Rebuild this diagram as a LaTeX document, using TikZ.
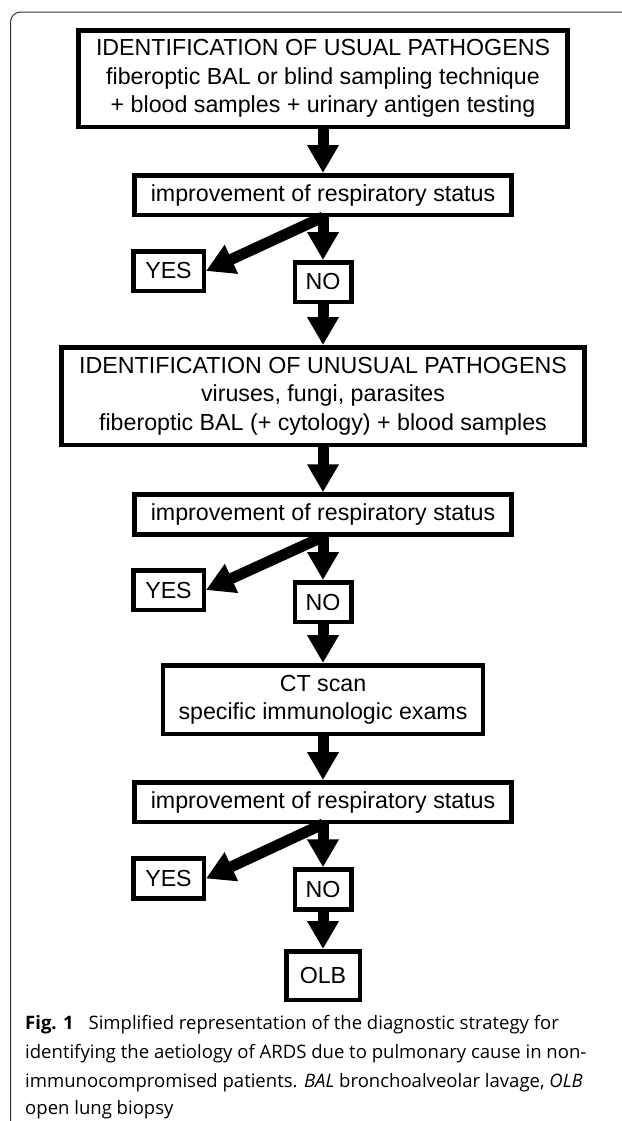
\documentclass[tikz,border=0pt]{standalone}
\usepackage{fontspec}
\setmainfont{Liberation Sans}
\newfontfamily\capfont{Open Sans}
\usetikzlibrary{arrows.meta}
\begin{document}
\begin{tikzpicture}[x=1bp,y=-1bp,
  box/.style={draw, line width=4.5bp, inner sep=0pt, align=center, font=\fontsize{23.3}{28.5}\selectfont},
  bigarrow/.style={line width=11bp, -{Triangle[width=30bp,length=28bp]}},
  captext/.style={anchor=base west, inner sep=0pt, font=\capfont\fontsize{18.6}{29}\selectfont},
  frameline/.style={line width=1bp, draw=black!80, rounded corners=10bp},
]
\useasboundingbox (0,0) rectangle (622,1121);
\coordinate (fa) at (10.5,1125);
\coordinate (fb) at (10.5,12);
\coordinate (fc) at (625,12);
\draw[frameline] (fa) -- (fb) -- (fc);

\node[box, minimum width=488.5bp, minimum height=96.5bp] (b1) at (323,78.5) {IDENTIFICATION OF USUAL PATHOGENS\\fiberoptic BAL or blind sampling technique\\+ blood samples + urinary antigen testing};
\node[box, minimum width=376.5bp, minimum height=39.5bp] (b2) at (323,195) {improvement of respiratory status};
\node[box, minimum width=70.5bp, minimum height=39.5bp] (y1) at (168.5,271) {YES};
\node[box, minimum width=56.5bp, minimum height=39.5bp] (n1) at (323,282) {NO};

\node[box, minimum width=522.8bp, minimum height=97.5bp] (b3) at (323,396) {IDENTIFICATION OF UNUSUAL PATHOGENS\\viruses, fungi, parasites\\fiberoptic BAL (+ cytology) + blood samples};
\node[box, minimum width=376.5bp, minimum height=40bp] (b4) at (323,514.5) {improvement of respiratory status};
\node[box, minimum width=70.5bp, minimum height=39.5bp] (y2) at (168.5,590) {YES};
\node[box, minimum width=56.5bp, minimum height=39.5bp] (n2) at (323,602) {NO};

\node[box, minimum width=319.5bp, minimum height=68.5bp] (b5) at (323,699.5) {CT scan\\specific immunologic exams};
\node[box, minimum width=376.5bp, minimum height=39.5bp] (b6) at (323,802) {improvement of respiratory status};
\node[box, minimum width=70.5bp, minimum height=40bp] (y3) at (168.5,878.5) {YES};
\node[box, minimum width=56.5bp, minimum height=40bp] (n3) at (323,889.5) {NO};
\node[box, minimum width=73.5bp, minimum height=48.5bp] (olb) at (323,975.5) {OLB};

\draw[bigarrow] (b1) -- (b2);
\draw[bigarrow] (b2) -- (n1);
\draw[bigarrow] (b2.south) -- (y1.east);
\draw[bigarrow] (n1) -- (b3);
\draw[bigarrow] (b3) -- (b4);
\draw[bigarrow] (b4) -- (n2);
\draw[bigarrow] (b4.south) -- (y2.east);
\draw[bigarrow] (n2) -- (b5);
\draw[bigarrow] (b5) -- (b6);
\draw[bigarrow] (b6) -- (n3);
\draw[bigarrow] (b6.south) -- (y3.east);
\draw[bigarrow] (n3) -- (olb);

\node[captext] (c1) at (25,1029) {\textbf{Fig. 1}\hspace{0.8em}Simplified representation of the diagnostic strategy for};
\node[captext] (c2) at (25,1058) {identifying the aetiology of ARDS due to pulmonary cause in non-};
\node[captext] (c3) at (25,1087) {immunocompromised patients. \textit{BAL} bronchoalveolar lavage, \textit{OLB}};
\node[captext] (c4) at (25,1114) {open lung biopsy};
\end{tikzpicture}
\end{document}
